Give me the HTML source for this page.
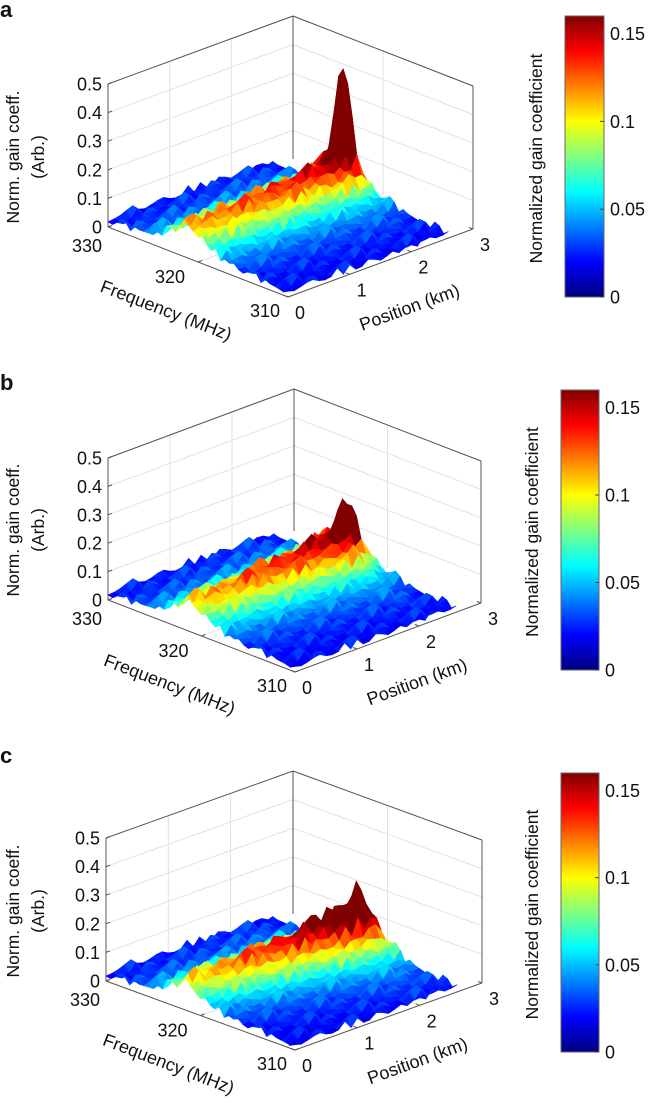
<!DOCTYPE html>
<html><head><meta charset="utf-8"><style>
html,body{margin:0;padding:0;background:#fff;}
svg{display:block;font-family:"Liberation Sans",Arial,sans-serif;}
</style></head><body>
<svg id="fig" width="648" height="1103" viewBox="0 0 648 1103" xmlns="http://www.w3.org/2000/svg">
<defs>
<linearGradient id="jetGrad" x1="0" y1="1" x2="0" y2="0"></linearGradient>
</defs>
<rect width="648" height="1103" fill="#fff"/>
</svg>
<script>
// ---- data ----
const positionsKm = [0,0.1,0.2,0.3,0.4,0.5,0.6,0.7,0.8,0.9,1.0,1.1,1.2,1.3,1.4,1.5,1.6,1.7,1.8,1.9,2.0,2.1,2.2,2.3,2.4,2.5,2.6];
const zTickLabels = ["0","0.1","0.2","0.3","0.4","0.5"];
const zTickValues = [0,0.1,0.2,0.3,0.4,0.5];
const freqTickValues = [330,320,310];
const posTickValues = [0,1,2,3];
const cbTickValues = [0,0.05,0.1,0.15];
const cbTickLabels = ["0","0.05","0.1","0.15"];

const peakA = [0.095,0.10,0.10,0.105,0.10,0.105,0.11,0.11,0.105,0.11,0.115,0.11,0.115,0.12,0.115,0.12,0.12,0.125,0.12,0.125,0.13,0.13,0.14,0.17,0.22,0.47,0.12];
const bfsA  = [321,321.2,320.9,321,321.1,320.8,321,321.2,321,320.9,321.1,321,320.8,321,321.1,321,320.9,321,321.2,321,320.9,321,321,321,321,321,320.8];
const widthA= [2.6,2.6,2.6,2.6,2.6,2.6,2.6,2.6,2.6,2.6,2.6,2.6,2.6,2.6,2.6,2.6,2.6,2.6,2.6,2.6,2.6,2.6,2.4,2.2,1.8,1.1,2.4];

const peakB = [0.085,0.09,0.095,0.10,0.10,0.10,0.105,0.10,0.11,0.11,0.115,0.11,0.115,0.12,0.12,0.12,0.125,0.125,0.13,0.13,0.135,0.14,0.15,0.16,0.19,0.25,0.11];
const bfsB  = [321.2,321,321.1,320.9,321,321.2,321,320.9,321,321.1,321,320.9,321,321.1,321,320.8,321,321,320.9,321,321,320.9,321,320.8,321,321,320.8];
const widthB= [2.6,2.6,2.6,2.6,2.6,2.6,2.6,2.6,2.6,2.6,2.6,2.6,2.6,2.6,2.6,2.6,2.6,2.6,2.6,2.6,2.6,2.6,2.6,2.4,2.0,1.5,2.4];

const peakC = [0.075,0.085,0.09,0.09,0.10,0.10,0.105,0.105,0.11,0.11,0.115,0.12,0.12,0.12,0.125,0.13,0.135,0.135,0.14,0.15,0.16,0.17,0.17,0.2,0.19,0.23,0.16];
const bfsC  = [321.6,321.5,321.5,321.4,321.3,321.3,321.2,321.1,321.1,321,320.9,320.9,320.8,320.7,320.6,320.6,320.5,320.4,320.3,320.3,320.2,320.1,320,319.9,319.8,319.7,319.6];
const widthC= [2.6,2.6,2.6,2.6,2.6,2.6,2.6,2.6,2.6,2.6,2.6,2.6,2.6,2.6,2.6,2.6,2.6,2.6,2.6,2.6,2.6,2.5,2.4,2.2,2.0,1.8,2.2];

const jitter = [0.004,0.018,-0.006,0.011,0.026,-0.002,0.009,0.031,0.001,-0.008,0.015,0.006,0.022,-0.004,0.012,0.038,0.003,-0.007,0.017,0.008,0.027,-0.003,0.013,0.005,0.020,-0.005,0.010,0.034,0.002];

// ---- helpers ----
const NS = "http://www.w3.org/2000/svg";
const svg = document.getElementById('fig');
function mk(tag, attrs, parent){ const e=document.createElementNS(NS,tag); for(const k in attrs) e.setAttribute(k,attrs[k]); (parent||svg).appendChild(e); return e; }
function clamp(x){return Math.max(0,Math.min(1,x));}
function jet(t){ t=clamp(t); const r=clamp(1.5-Math.abs(4*t-3)), g=clamp(1.5-Math.abs(4*t-2)), b=clamp(1.5-Math.abs(4*t-1)); return `rgb(${Math.round(r*255)},${Math.round(g*255)},${Math.round(b*255)})`; }
const CMAX = 0.16;
const grad = document.getElementById('jetGrad');
for(let k=0;k<=16;k++){ const s=document.createElementNS(NS,'stop'); s.setAttribute('offset',(k/16)); s.setAttribute('stop-color',jet(k/16)); grad.appendChild(s); }

function panel(cfg){
  const {label, L, F, R, zpx, cb, peak, bfs, width} = cfg;
  const g = mk('g',{});
  
  
  function P(f,p,z){ const u=(f-310)/20, v=p/3; return [F[0]+u*(L[0]-F[0])+v*(R[0]-F[0]), F[1]+u*(L[1]-F[1])+v*(R[1]-F[1])-z*zpx]; }
  const ln=(a,b,st,sw,name)=>{ const e=mk('line',{x1:a[0],y1:a[1],x2:b[0],y2:b[1],stroke:st,'stroke-width':sw},g);   return e; };
  for(const z of zTickValues.slice(1)){
    ln(P(330,0,z),P(330,3,z),'#e2e2e2',1,'left-wall-gridline');
    ln(P(330,3,z),P(310,3,z),'#e2e2e2',1,'right-wall-gridline');
  }
  for(const p of [1,2]){ ln(P(330,p,0),P(330,p,0.5),'#e2e2e2',1,'left-wall-gridline'); ln(P(330,p,0),P(310,p,0),'#e2e2e2',1,'floor-gridline'); }
  ln(P(320,3,0),P(320,3,0.5),'#e2e2e2',1,'right-wall-gridline');
  ln(P(320,0,0),P(320,3,0),'#e2e2e2',1,'floor-gridline');
  ln(P(330,3,0),P(330,3,0.5),'#555',1,'back-vertical-edge');
  ln(P(330,0,0.5),P(330,3,0.5),'#555',1,'top-left-edge');
  ln(P(330,3,0.5),P(310,3,0.5),'#555',1,'top-right-edge');
  ln(P(310,3,0),P(310,3,0.5),'#555',1,'right-vertical-edge');
  ln(P(330,0,0),P(330,0,0.5),'#555',1,'z-axis-line');
  ln(P(330,0,0),P(310,0,0),'#555',1,'frequency-axis-line');
  ln(P(310,0,0),P(310,3,0),'#555',1,'position-axis-line');
  const sg = mk('g',{},g);
  
  
  const freqs=[]; for(let i=0;i<=40;i++) freqs.push(330-0.5*i);
  const Z=[];
  for(let i=0;i<freqs.length;i++){ Z.push([]); for(let j=0;j<positionsKm.length;j++){
    const jt=jitter[(i*5+j*11)%jitter.length];
    const lor=1/(1+Math.pow((freqs[i]-bfs[j])/width[j],2));
    Z[i].push(0.008+jt*0.7+peak[j]*lor*(1+jt*2.5));
  }}
  const quads=[];
  for(let i=0;i<freqs.length-1;i++) for(let j=0;j<positionsKm.length-1;j++){
    const fm=(freqs[i]+freqs[i+1])/2, pm=(positionsKm[j]+positionsKm[j+1])/2;
    quads.push({i,j,d:(fm-310)/20+pm/3});
  }
  quads.sort((a,b)=>b.d-a.d);
  for(const q of quads){
    const {i,j}=q;
    const pts=[[i,j],[i+1,j],[i+1,j+1],[i,j+1]].map(([a,b])=>P(freqs[a],positionsKm[b],Z[a][b]));
    const zm=(Z[i][j]+Z[i+1][j]+Z[i+1][j+1]+Z[i][j+1])/4;
    const c=jet(zm/CMAX);
    const e=mk('polygon',{points:pts.map(p=>p[0].toFixed(1)+','+p[1].toFixed(1)).join(' '),fill:c,stroke:c,'stroke-width':0.6},sg);
    
    
  }
  const tx=(x,y,s,opts,name)=>{ const e=mk('text',Object.assign({x,y,'font-size':18,fill:'#111'},opts||{}),g); e.textContent=s;   return e; };
  zTickValues.forEach((z,k)=>{ const p=P(330,0,z); ln(p,[p[0]+4,p[1]-1.5],'#555',1,'z-tick'); tx(p[0]-6,p[1]+6.5,zTickLabels[k],{'text-anchor':'end'},'z-tick-label'); });
  const fOff={330:[-21,25],320:[-28,21],310:[-23,20]};
  freqTickValues.forEach(f=>{ const p=P(f,0,0); ln(p,[p[0]+4,p[1]-1.5],'#555',1,'frequency-tick'); tx(p[0]+fOff[f][0],p[1]+fOff[f][1],String(f),{'text-anchor':'middle'},'frequency-tick-label'); });
  posTickValues.forEach(v=>{ const p=P(310,v,0); ln(p,[p[0]-4,p[1]-1.5],'#555',1,'position-tick'); tx(p[0]+12,p[1]+22,String(v),{'text-anchor':'middle'},'position-tick-label'); });
  const mf=P(320,0,0), mp=P(310,1.5,0);
  tx(mf[0]-34,mf[1]+54,'Frequency (MHz)',{'text-anchor':'middle','font-size':18,transform:`rotate(21 ${mf[0]-34} ${mf[1]+54})`},'frequency-axis-title');
  tx(mp[0]+31,mp[1]+50,'Position (km)',{'text-anchor':'middle','font-size':18,transform:`rotate(-20 ${mp[0]+31} ${mp[1]+50})`},'position-axis-title');
  const yc=L[1]-70;
  tx(19,yc,'Norm. gain coeff.',{'text-anchor':'middle','font-size':17.5,transform:`rotate(-90 19 ${yc})`},'z-axis-title');
  tx(44,yc,'(Arb.)',{'text-anchor':'middle','font-size':17.5,transform:`rotate(-90 44 ${yc})`},'z-axis-title-units');
  tx(0,cfg.labelY,label,{'font-size':22,'font-weight':'bold'},'panel-label');
  const [cx,cy0,cw,cy1]=cb;
  const r=mk('rect',{x:cx,y:cy0,width:cw,height:cy1-cy0,fill:'url(#jetGrad)',stroke:'#666','stroke-width':1},g);
  
  
  cbTickValues.forEach((v,k)=>{ const y=cy1-(v/CMAX)*(cy1-cy0); ln([cx+cw-4,y],[cx+cw,y],'#444',1,'colorbar-tick'); tx(cx+cw+6,y+6.5,cbTickLabels[k],{},'colorbar-tick-label'); });
  const my=(cy0+cy1)/2+2;
  tx(cx-23,my,'Normalized gain coefficient',{'text-anchor':'middle','font-size':17.5,transform:`rotate(-90 ${cx-23} ${my})`},'colorbar-title');
}

panel({label:'a',labelY:17,L:[108,227],F:[288,297],R:[473,229],zpx:286,cb:[565,16,39,297],peak:peakA,bfs:bfsA,width:widthA});
panel({label:'b',labelY:390,L:[108,600],F:[295,672],R:[481,603],zpx:284,cb:[561,390,38,670],peak:peakB,bfs:bfsB,width:widthB});
panel({label:'c',labelY:763,L:[106,981],F:[295,1050],R:[482,983],zpx:286,cb:[561,773,38,1052],peak:peakC,bfs:bfsC,width:widthC});
</script>
</body></html>
